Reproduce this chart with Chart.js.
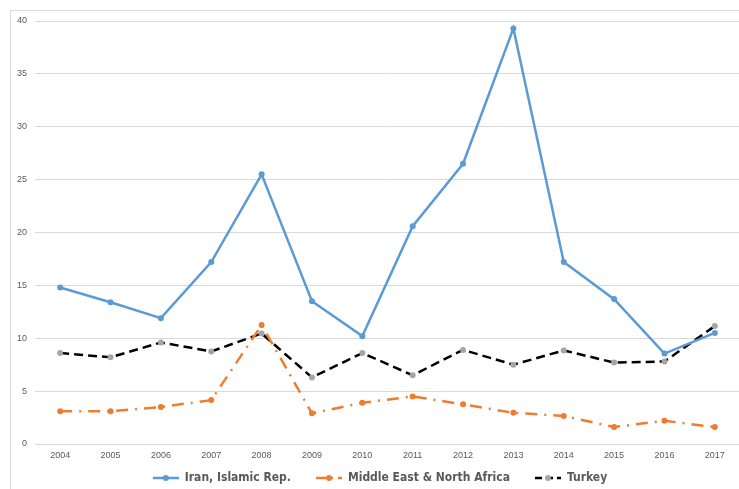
<!DOCTYPE html>
<html>
<head>
<meta charset="utf-8">
<script src="https://cdn.jsdelivr.net/npm/chart.js@4.4.0/dist/chart.umd.min.js"></script>
<style>
  html, body { margin: 0; padding: 0; background: #fff; overflow: hidden; }
  #wrap { width: 739px; height: 489px; position: relative; overflow: hidden; }
</style>
</head>
<body>
<div id="wrap"><canvas id="myChart" width="764" height="494"></canvas></div>
<script>
'use strict';
const years = ['2004', '2005', '2006', '2007', '2008', '2009', '2010', '2011', '2012', '2013', '2014', '2015', '2016', '2017'];
const iran = [14.8, 13.4, 11.9, 17.2, 25.5, 13.5, 10.2, 20.6, 26.5, 39.3, 17.2, 13.7, 8.55, 10.5];
const mena = [3.1, 3.1, 3.5, 4.15, 11.25, 2.9, 3.9, 4.5, 3.75, 2.95, 2.65, 1.6, 2.2, 1.6];
const turkey = [8.6, 8.2, 9.6, 8.75, 10.45, 6.3, 8.6, 6.5, 8.9, 7.5, 8.85, 7.7, 7.8, 11.15];
const yTicks = [0, 5, 10, 15, 20, 25, 30, 35, 40];

const blue = '#5b9bd5';
const orange = '#ed7d31';
const grey = '#a5a5a5';

// little line+dot pictures for the legend (blank margin on the left = gap between items)
function legendIcon(lineColor, dotColor, dash) {
  let c = document.createElement('canvas');
  c.width = 46;
  c.height = 10;
  let g = c.getContext('2d');
  g.strokeStyle = lineColor;
  g.lineWidth = 2.5;
  g.setLineDash(dash);
  g.beginPath();
  g.moveTo(20, 5);
  g.lineTo(46, 5);
  g.stroke();
  g.fillStyle = dotColor;
  g.beginPath();
  g.arc(33, 5, 3, 0, Math.PI * 2);
  g.fill();
  return c;
}
const icons = [
  legendIcon(blue, blue, []),
  legendIcon(orange, orange, [10, 5, 2, 5]),
  legendIcon('#000', grey, [7, 4])
];

const frame = {
  id: 'frame',
  beforeDraw(chart) {
    let ctx = chart.ctx;
    ctx.save();
    ctx.strokeStyle = '#d9d9d9';
    ctx.lineWidth = 1;
    ctx.strokeRect(10.5, 10.5, 900, 900);
    ctx.restore();
  }
};

let ctx = document.getElementById('myChart').getContext('2d');
let chart = new Chart(ctx, {
  type: 'line',
  data: {
    labels: years,
    datasets: [{
      label: 'Iran, Islamic Rep.',
      data: iran,
      borderColor: blue,
      backgroundColor: blue,
      borderWidth: 2.5,
      pointRadius: 3,
      pointBorderWidth: 0,
      tension: 0
    },
    {
      label: 'Middle East & North Africa',
      data: mena,
      borderColor: orange,
      backgroundColor: orange,
      borderWidth: 2.5,
      borderDash: [12, 7, 2, 7],
      pointRadius: 3,
      pointBorderWidth: 0,
      tension: 0
    },
    {
      label: 'Turkey',
      data: turkey,
      borderColor: '#000',
      backgroundColor: grey,
      pointBackgroundColor: grey,
      borderWidth: 2.5,
      borderDash: [9, 5],
      pointRadius: 3,
      pointBorderWidth: 0,
      tension: 0
    }]
  },
  options: {
    responsive: false,
    animation: false,
    layout: { padding: { top: 21, left: 0, right: 24, bottom: 0 } },
    plugins: {
      tooltip: { enabled: false },
      legend: {
        position: 'bottom',
        labels: {
          usePointStyle: true,
          pointStyleWidth: 46,
          padding: 5,
          color: '#595959',
          font: { family: "'DejaVu Sans Condensed', sans-serif", size: 12, weight: 'bold' },
          generateLabels(ch) {
            let items = Chart.defaults.plugins.legend.labels.generateLabels(ch);
            items.forEach((it, i) => { it.pointStyle = icons[i]; });
            return items;
          }
        }
      }
    },
    scales: {
      x: {
        offset: true,
        afterFit(scale) { scale.height = 23; },
        grid: { display: false, drawTicks: false },
        border: { color: '#d9d9d9' },
        ticks: {
          color: '#595959',
          padding: 6,
          maxRotation: 0,
          font: { family: "'Liberation Sans', sans-serif", size: 9 }
        }
      },
      y: {
        min: 0,
        max: 40,
        afterFit(scale) { scale.width = 35; },
        afterBuildTicks(scale) { scale.ticks = yTicks.map(v => ({ value: v })); },
        grid: { color: '#d9d9d9', drawTicks: false },
        border: { display: false },
        ticks: {
          color: '#595959',
          padding: 8,
          font: { family: "'Liberation Sans', sans-serif", size: 9 }
        }
      }
    }
  },
  plugins: [frame]
});
</script>
</body>
</html>
